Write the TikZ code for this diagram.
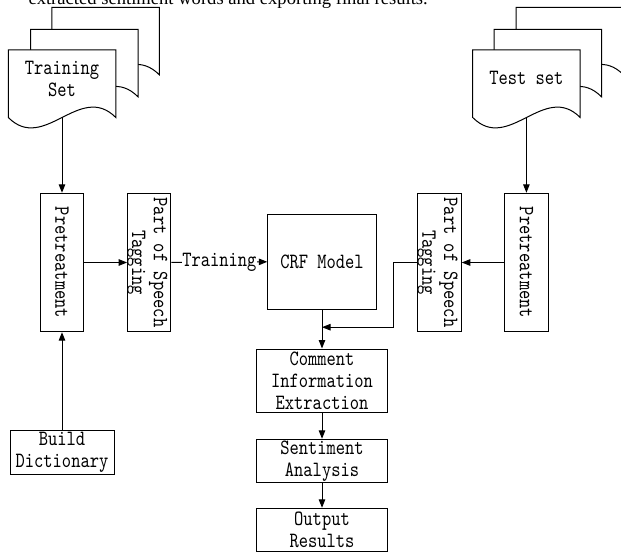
\documentclass[tikz,border=0pt]{standalone}
\usepackage{fontspec}
\newfontfamily\diafont{lmmono10-regular.otf}[FakeStretch=0.81]
\newfontfamily\hdrfont{Liberation Serif}
\usetikzlibrary{arrows.meta}

\newcommand\docsheet[3]{%
  \filldraw[sheet] (#1,#2) -- ({#1+#3},#2) -- ({#1+#3},{#2+67.5})
    .. controls ({#1+2*#3/3},{#2+67.5-36}) and ({#1+#3/3},{#2+67.5+36}) .. (#1,{#2+67.5}) -- cycle;}

\begin{document}
\begin{tikzpicture}[x=1pt,y=-1pt,
  line width=1pt,
  sheet/.style={draw=black, fill=white, line width=1pt},
  txt/.style={font=\diafont\fontsize{21.8}{21.7}\selectfont, align=center, inner sep=0pt},
  box/.style={draw=black, fill=white, inner sep=0pt, line width=1pt},
  arr/.style={draw=black, line width=1pt, -{Triangle[length=8.5pt,width=6.5pt]}},
  ln/.style={draw=black, line width=1pt}]

\fill[white] (0,0) rectangle (621,553);
\useasboundingbox (0,0) rectangle (621,553);

% cut-off header text
\node[font=\hdrfont\fontsize{18.6}{20}\selectfont, anchor=base west, inner sep=0pt] (hdr) at (28,5)
  {extracted sentiment words and exporting final results.};

% left document stack
\docsheet{51.8}{7.3}{107.5}
\docsheet{30.5}{29.3}{107.5}
\docsheet{8.3}{50}{107.5}
\node[txt] (trainset) at (62,79) {Training\\Set};
\coordinate (trainb) at (62,117.5);

% right document stack
\docsheet{516}{7.3}{107.5}
\docsheet{494}{29.3}{107.5}
\docsheet{472.7}{50}{107.5}
\node[txt] (testset) at (526.4,78.3) {Test set};
\coordinate (testb) at (526.4,117.5);

% main row
\node[box, minimum width=42.6pt, minimum height=138.4pt] (pretL) at (62,262.5) {};
\node[txt, rotate=-90] at (pretL.center) {Pretreatment};
\node[box, minimum width=43.3pt, minimum height=138.4pt] (posL) at (149.3,262.5) {};
\node[txt, rotate=-90] at ([xshift=-2pt]posL.center) {Part of Speech\\Tagging};
\node[box, minimum width=108.4pt, minimum height=95pt, txt] (crf) at (322,261.8) {CRF Model};
\node[box, minimum width=43.6pt, minimum height=138.4pt] (posR) at (439.5,262.5) {};
\node[txt, rotate=-90] at ([xshift=-2pt]posR.center) {Part of Speech\\Tagging};
\node[box, minimum width=44pt, minimum height=138.4pt] (pretR) at (526.4,262.5) {};
\node[txt, rotate=-90] at (pretR.center) {Pretreatment};

% central column
\node[box, txt, minimum width=131.6pt, minimum height=63.7pt] (comment) at (322,380.85) {Comment\\Information\\Extraction};
\node[box, txt, minimum width=131.6pt, minimum height=43.4pt] (senti) at (322,461) {Sentiment\\Analysis};
\node[box, txt, minimum width=131.6pt, minimum height=43.4pt] (output) at (322,530) {Output\\Results};

% dictionary
\node[box, txt, minimum width=104pt, minimum height=43.6pt] (dict) at (62,452.5) {Build\\Dictionary};

% connectors
\draw[arr] (trainb) -- (pretL.north);
\draw[arr] (testb) -- (pretR.north);
\draw[arr] (dict.north) -- (pretL.south);
\draw[arr] (pretL.east) -- (posL.west);
\draw[arr] (posL.east) -- node[txt, fill=white, inner sep=0.6pt] (trainlbl) {Training} (crf.west);
\draw[arr] (pretR.west) -- (posR.east);
\path (crf.south) ++(0,17.4) coordinate (join);
\draw[arr] (posR.west) -- ++(-23.7,0) |- (join);
\draw[arr] (crf.south) -- (comment.north);
\draw[arr] (comment.south) -- (senti.north);
\draw[arr] (senti.south) -- (output.north);
\end{tikzpicture}
\end{document}
